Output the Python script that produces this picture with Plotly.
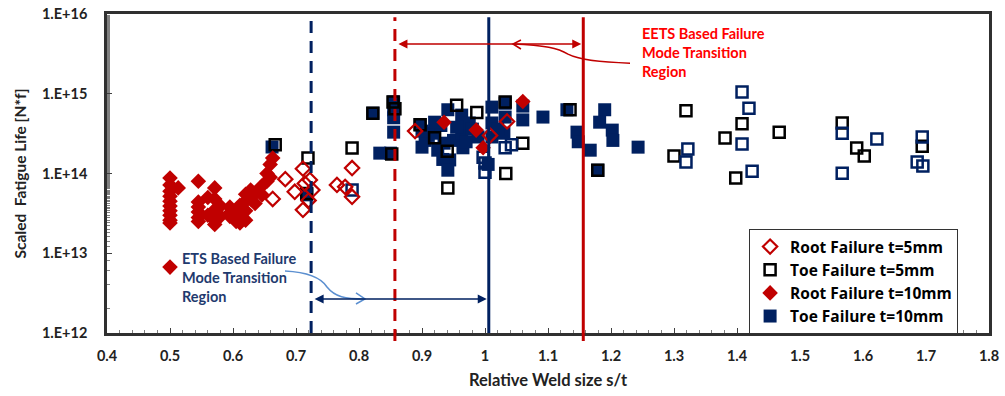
import plotly.graph_objects as go

# ---- data: relative weld size s/t vs scaled fatigue life ----
root5_x = [0.663, 0.683, 0.698, 0.711, 0.714, 0.711, 0.722, 0.726, 0.720, 0.765, 0.778,
           0.789, 0.789, 0.889, 1.008, 1.035]
root5_y = [4.8e13, 8.5e13, 5.9e13, 1.15e14, 7.5e13, 3.5e13, 8.3e13, 6.2e13, 4.6e13, 7.2e13, 6.8e13,
           5.1e13, 1.17e14, 3.4e14, 3.0e14, 4.5e14]

toe5_x = [0.667, 0.719, 0.717, 0.789, 0.822, 0.854, 0.857, 0.852, 0.941, 0.897, 0.955, 0.987,
          1.033, 1.032, 1.060, 1.135, 1.179, 1.300, 1.319, 1.381, 1.408, 1.398, 1.467, 1.567,
          1.590, 1.602, 1.694, 0.920, 0.940]
toe5_y = [2.3e14, 1.56e14, 5.6e13, 2.09e14, 5.7e14, 7.9e14, 6.5e14, 1.75e14, 6.6e13, 4.1e14,
          7.2e14, 5.8e14, 1.0e14, 7.9e14, 2.4e14, 6.3e14, 1.1e14, 1.66e14, 6.1e14, 2.79e14,
          4.2e14, 8.8e13, 3.3e14, 4.3e14, 2.09e14, 1.66e14, 2.2e14, 2.8e14, 1.9e14]

root10_x = [0.500, 0.500, 0.500, 0.500, 0.500, 0.500, 0.500, 0.500, 0.500, 0.500, 0.500,
            0.513, 0.545, 0.545, 0.545, 0.545, 0.545, 0.545, 0.560, 0.560,
            0.571, 0.571, 0.571, 0.571, 0.571, 0.580, 0.580, 0.595, 0.595, 0.595,
            0.605, 0.605, 0.611, 0.611, 0.611, 0.620, 0.620, 0.620, 0.620,
            0.628, 0.628, 0.635, 0.635, 0.646, 0.646, 0.654, 0.654, 0.659, 0.659, 0.663,
            0.935, 1.060, 0.986, 0.997]
root10_y = [8.8e13, 7.2e13, 6.0e13, 5.2e13, 4.5e13, 3.9e13, 3.4e13, 3.0e13, 2.6e13, 2.4e13, 6.7e12,
            6.6e13, 8.0e13, 4.4e13, 3.8e13, 3.3e13, 2.8e13, 2.5e13, 5.0e13, 3.0e13,
            6.6e13, 4.8e13, 3.5e13, 2.6e13, 2.3e13, 3.9e13, 2.9e13, 3.8e13, 2.9e13, 3.2e13,
            3.2e13, 2.5e13, 4.0e13, 3.0e13, 2.4e13, 5.5e13, 4.5e13, 3.4e13, 2.6e13,
            6.2e13, 4.8e13, 5.7e13, 4.2e13, 5.4e13, 7.0e13, 1.0e14, 8.0e13, 1.3e14, 9.0e13, 1.56e14,
            4.4e14, 8.0e14, 3.5e14, 2.1e14]

toe10_x = [0.662, 0.717, 0.822, 0.833, 0.855, 0.855, 0.855, 0.855, 0.850,
           0.897, 0.900, 0.910, 0.918, 0.925, 0.930, 0.941, 0.944, 0.933, 0.941, 0.950,
           0.963, 0.963, 0.965, 0.975, 0.989, 1.011, 1.011, 1.011, 1.005,
           1.032, 1.032, 1.030, 1.060, 1.060, 1.092, 1.130, 1.146, 1.148, 1.167,
           1.179, 1.190, 1.182, 1.202, 1.203, 1.243,
           0.905, 0.935, 0.955, 0.970, 0.980, 1.020, 0.900, 0.920]
toe10_y = [2.15e14, 5.4e13, 5.7e14, 1.8e14, 7.9e14, 6.3e14, 5.0e14, 3.3e14, 1.8e14,
           4.1e14, 2.14e14, 3.0e14, 3.2e14, 1.96e14, 4.0e14, 6.3e14, 1.48e14, 1.5e14, 1.1e14, 2.6e14,
           5.4e14, 3.2e14, 2.1e14, 4.3e14, 2.87e14, 6.8e14, 4.3e14, 2.87e14, 1.3e14,
           7.6e14, 5.1e14, 3.2e14, 7.0e14, 4.7e14, 5.1e14, 6.3e14, 3.3e14, 2.5e14, 1.96e14,
           1.1e14, 6.3e14, 4.4e14, 3.5e14, 2.6e14, 2.14e14,
           2.6e14, 2.4e14, 3.8e14, 2.5e14, 3.6e14, 3.6e14, 3.4e14, 4.4e14]

toe10_open_x = [0.789, 1.000, 1.032, 0.997, 1.000, 1.042, 1.322, 1.319, 1.408, 1.419, 1.408,
                1.424, 1.567, 1.567, 1.622, 1.694, 1.686, 1.695]
toe10_open_y = [6.2e13, 1.35e14, 2.1e14, 1.6e14, 1.04e14, 2.3e14, 2.03e14, 1.39e14, 1.05e15, 6.6e14,
                2.34e14, 1.07e14, 3.2e14, 1.01e14, 2.7e14, 2.87e14, 1.39e14, 1.24e14]

# transition limits (s/t)
ets_lo, ets_hi = 0.724, 1.006
eets_lo, eets_hi = 0.857, 1.156

x_ticks = [0.4, 0.5, 0.6, 0.7, 0.8, 0.9, 1.0, 1.1, 1.2, 1.3, 1.4, 1.5, 1.6, 1.7, 1.8]
x_ticktext = ["0.4", "0.5", "0.6", "0.7", "0.8", "0.9", "1", "1.1", "1.2", "1.3", "1.4",
              "1.5", "1.6", "1.7", "1.8"]
y_ticks = [1e12, 1e13, 1e14, 1e15, 1e16]
y_ticktext = ["1.E+12", "1.E+13", "1.E+14", "1.E+15", "1.E+16"]

NAVY = "#002060"
RED = "#C00000"
FONT = "Lato"

fig = go.Figure()

fig.add_trace(go.Scatter(
    x=toe10_x, y=toe10_y, mode="markers", name="Toe Failure t=10mm", legendrank=4,
    marker=dict(symbol="square", size=13, color=NAVY, line=dict(width=0))))
fig.add_trace(go.Scatter(
    x=toe5_x, y=toe5_y, mode="markers", name="Toe Failure t=5mm", legendrank=2,
    marker=dict(symbol="square-open", size=11, color="black", line=dict(width=2.5))))
fig.add_trace(go.Scatter(
    x=toe10_open_x, y=toe10_open_y, mode="markers", showlegend=False,
    marker=dict(symbol="square-open", size=11, color=NAVY, line=dict(width=2.5))))
fig.add_trace(go.Scatter(
    x=root10_x, y=root10_y, mode="markers", name="Root Failure t=10mm", legendrank=3,
    marker=dict(symbol="diamond", size=12, color=RED, line=dict(width=0))))
fig.add_trace(go.Scatter(
    x=root5_x, y=root5_y, mode="markers", name="Root Failure t=5mm", legendrank=1,
    marker=dict(symbol="diamond-open", size=11, color=RED, line=dict(width=2.2))))

# vertical transition lines
fig.add_shape(type="line", xref="x", yref="paper", x0=ets_lo, x1=ets_lo, y0=0, y1=0.99,
              line=dict(color=NAVY, width=3, dash="12px,8px"))
fig.add_shape(type="line", xref="x", yref="paper", x0=eets_lo, x1=eets_lo, y0=-0.025, y1=0.99,
              line=dict(color=RED, width=3, dash="12px,8px"))
fig.add_shape(type="line", xref="x", yref="paper", x0=ets_hi, x1=ets_hi, y0=0, y1=0.99,
              line=dict(color=NAVY, width=3))
fig.add_shape(type="line", xref="x", yref="paper", x0=eets_hi, x1=eets_hi, y0=-0.025, y1=0.99,
              line=dict(color=RED, width=3))

# double-headed span arrows (log10 y positions)
fig.add_annotation(x=eets_hi, y=15.624, ax=eets_lo, ay=15.624, xref="x", yref="y",
                   axref="x", ayref="y", text="", showarrow=True, arrowhead=2, startarrowhead=2,
                   arrowside="end+start", arrowsize=1.2, arrowwidth=1.5, arrowcolor=RED,
                   standoff=2, startstandoff=2)
fig.add_annotation(x=ets_hi, y=12.426, ax=ets_lo, ay=12.426, xref="x", yref="y",
                   axref="x", ayref="y", text="", showarrow=True, arrowhead=2, startarrowhead=2,
                   arrowside="end+start", arrowsize=1.2, arrowwidth=1.5, arrowcolor=NAVY,
                   standoff=2, startstandoff=2)

# curved callout connectors with open arrowheads
fig.add_shape(type="path", xref="x", yref="paper",
              path="M 1.2302,0.846 C 1.1825,0.849 1.1508,0.855 1.1317,0.874 "
                   "C 1.1159,0.893 1.0952,0.902 1.0444,0.906",
              line=dict(color=RED, width=1.5))
fig.add_shape(type="path", xref="x", yref="paper",
              path="M 1.0571,0.9185 L 1.0444,0.906 L 1.0571,0.8903",
              line=dict(color=RED, width=1.5))
fig.add_shape(type="path", xref="x", yref="paper",
              path="M 0.6825,0.1944 C 0.7143,0.1912 0.7381,0.1787 0.7492,0.1442 "
                   "C 0.7619,0.1129 0.7778,0.1066 0.8095,0.1066",
              line=dict(color="#5B8FD0", width=1.5))
fig.add_shape(type="path", xref="x", yref="paper",
              path="M 0.7952,0.1254 L 0.8095,0.1066 L 0.7952,0.0909",
              line=dict(color="#5B8FD0", width=1.5))

fig.add_annotation(x=1.246, y=0.972, xref="x", yref="paper", xanchor="left", yanchor="top",
                   align="left", showarrow=False,
                   text="EETS Based Failure<br>Mode Transition<br>Region",
                   font=dict(family=FONT, size=14.5, color="#FF0000", weight="bold"))
fig.add_annotation(x=0.516, y=0.266, xref="x", yref="paper", xanchor="left", yanchor="top",
                   align="left", showarrow=False,
                   text="ETS Based Failure<br>Mode Transition<br>Region",
                   font=dict(family=FONT, size=14.5, color="#1F3A6E", weight="bold"))

fig.update_xaxes(range=[0.4, 1.8], tickvals=x_ticks, ticktext=x_ticktext, automargin=False,
                 ticks="inside", ticklen=5, tickcolor="#404040",
                 minor=dict(dtick=0.02, ticks="inside", ticklen=3, tickcolor="#808080"),
                 showgrid=False, zeroline=False, showline=True, linecolor="#303030",
                 linewidth=2.5, mirror=True, ticklabelstandoff=8,
                 tickfont=dict(family=FONT, size=14.5, color="#222222", weight="bold"),
                 title=dict(text="Relative Weld size s/t", standoff=12,
                            font=dict(family=FONT, size=16.5, color="#222222", weight="bold")))
fig.update_yaxes(type="log", range=[12, 16], tickvals=y_ticks, ticktext=y_ticktext,
                 automargin=False,
                 ticks="inside", ticklen=5, tickcolor="#404040",
                 minor=dict(ticks="inside", ticklen=3, tickcolor="#808080", showgrid=False),
                 showgrid=False, zeroline=False, showline=True, linecolor="#303030",
                 linewidth=2.5, mirror=True, ticklabelstandoff=14,
                 tickfont=dict(family=FONT, size=14.5, color="#222222", weight="bold"),
                 title=dict(text="Scaled  Fatigue Life [N*f]", standoff=12,
                            font=dict(family=FONT, size=15.5, color="#222222", weight="bold")))

fig.update_layout(
    width=1005, height=396,
    margin=dict(l=107, r=16, t=14, b=63),
    paper_bgcolor="white", plot_bgcolor="white",
    showlegend=True,
    legend=dict(x=0.728, y=0.326, xanchor="left", yanchor="top",
                bgcolor="white", bordercolor="#333333", borderwidth=1,
                font=dict(family="Open Sans", size=15.5, color="black", weight="bold"),
                tracegroupgap=0, itemwidth=30),
)

fig.write_html("out.html")
